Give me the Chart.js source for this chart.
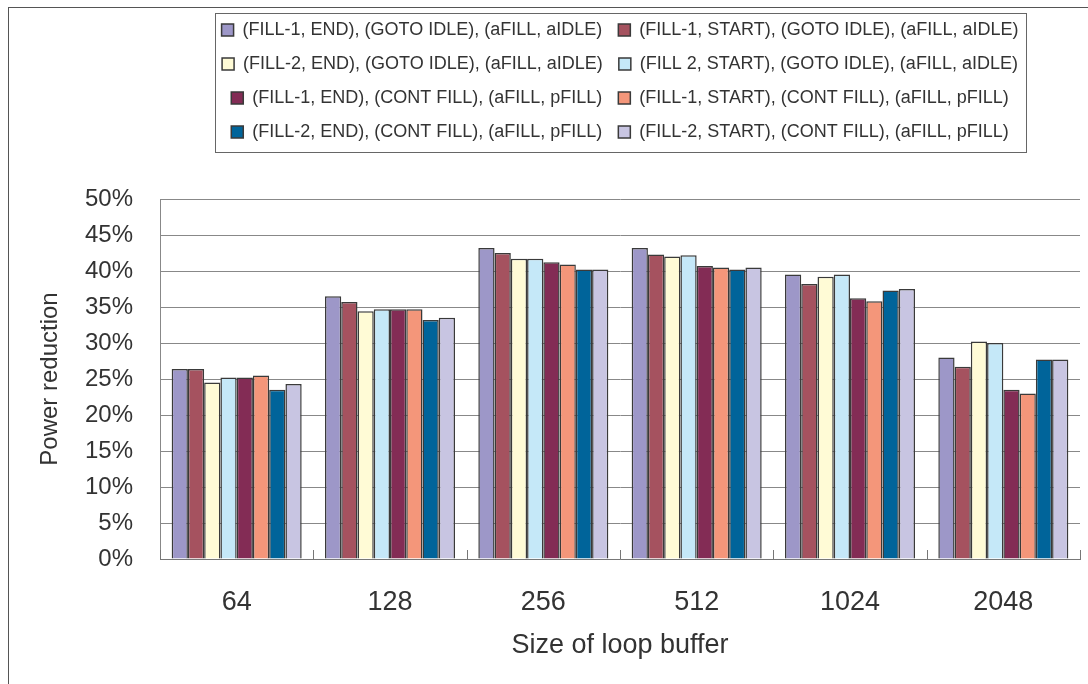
<!DOCTYPE html>
<html>
<head>
<meta charset="utf-8">
<script src="https://cdn.jsdelivr.net/npm/chart.js@4.4.0/dist/chart.umd.min.js"></script>
<style>
  html, body { margin: 0; padding: 0; background: #fff; overflow: hidden; }
  #wrap { width: 1088px; height: 684px; position: relative; }
</style>
</head>
<body>
<div id="wrap"><canvas id="powerChart"></canvas></div>
<script>
var sizes = ['64', '128', '256', '512', '1024', '2048'];

var seriesNames = [
    '(FILL-1, END), (GOTO IDLE), (aFILL, aIDLE)',
    '(FILL-1, START), (GOTO IDLE), (aFILL, aIDLE)',
    '(FILL-2, END), (GOTO IDLE), (aFILL, aIDLE)',
    '(FILL 2, START), (GOTO IDLE), (aFILL, aIDLE)',
    '(FILL-1, END), (CONT FILL), (aFILL, pFILL)',
    '(FILL-1, START), (CONT FILL), (aFILL, pFILL)',
    '(FILL-2, END), (CONT FILL), (aFILL, pFILL)',
    '(FILL-2, START), (CONT FILL), (aFILL, pFILL)'
];

// power reduction in %, one array per series, in order of sizes
var fill1EndIdle   = [26.4, 36.5, 43.2, 43.2, 39.5, 28.0];
var fill1StartIdle = [26.4, 35.7, 42.5, 42.3, 38.2, 26.7];
var fill2EndIdle   = [24.5, 34.4, 41.7, 42.0, 39.2, 30.2];
var fill2StartIdle = [25.2, 34.7, 41.7, 42.2, 39.5, 30.0];
var fill1EndCont   = [25.2, 34.7, 41.2, 40.7, 36.2, 23.5];
var fill1StartCont = [25.5, 34.7, 40.9, 40.5, 35.8, 23.0];
var fill2EndCont   = [23.5, 33.2, 40.2, 40.2, 37.3, 27.7];
var fill2StartCont = [24.3, 33.5, 40.2, 40.5, 37.5, 27.7];

var yMax = 50;
var yStep = 5;

(function () {
    var values = [fill1EndIdle, fill1StartIdle, fill2EndIdle, fill2StartIdle,
                  fill1EndCont, fill1StartCont, fill2EndCont, fill2StartCont];
    var colors = ['#9D97C8', '#A5525F', '#FFFBD6', '#C5E8F8',
                  '#832C55', '#F4967A', '#00649A', '#C8C5E2'];
    var font = "'Liberation Sans', Arial, sans-serif";
    var textColor = '#333333';

    var datasets = seriesNames.map(function (name, i) {
        return {
            label: name,
            data: values[i],
            backgroundColor: colors[i],
            borderColor: '#3a3a3a',
            borderWidth: 1.5,
            categoryPercentage: 0.848,
            barPercentage: 1.0
        };
    });

    // leave room between the legend and the plot
    var legendGap = {
        id: 'legendGap',
        beforeInit: function (chart) {
            var fit = chart.legend.fit;
            chart.legend.fit = function () {
                fit.call(this);
                this.height += 48;
            };
        }
    };

    // outer frame, legend frame and inside category ticks
    var decor = {
        id: 'decor',
        beforeDraw: function (chart) {
            var ctx = chart.ctx;
            ctx.save();
            ctx.strokeStyle = '#555';
            ctx.lineWidth = 1;
            ctx.strokeRect(8.5, 7.5, 1200, 800);
            ctx.restore();
        },
        afterDraw: function (chart) {
            var ctx = chart.ctx;
            var boxes = chart.legend.legendHitBoxes;
            var l = Infinity, t = Infinity, r = -Infinity, b = -Infinity;
            boxes.forEach(function (h) {
                l = Math.min(l, h.left); t = Math.min(t, h.top);
                r = Math.max(r, h.left + h.width); b = Math.max(b, h.top + h.height);
            });
            ctx.save();
            ctx.strokeStyle = '#666';
            ctx.lineWidth = 1;
            ctx.strokeRect(Math.round(l - 7) + 0.5, Math.round(t - 8) + 0.5,
                           Math.round(r - l + 14), Math.round(b - t + 19));

            var xs = chart.scales.x;
            var a = chart.chartArea;
            var step = xs.getPixelForValue(1) - xs.getPixelForValue(0);
            ctx.strokeStyle = '#777';
            ctx.beginPath();
            for (var i = 0; i <= sizes.length; i++) {
                var px = Math.round(xs.getPixelForValue(0) - step / 2 + i * step) + 0.5;
                ctx.moveTo(px, a.bottom);
                ctx.lineTo(px, a.bottom - 9);
            }
            ctx.stroke();
            ctx.restore();
        }
    };

    new Chart(document.getElementById('powerChart').getContext('2d'), {
        type: 'bar',
        data: { labels: sizes, datasets: datasets },
        plugins: [legendGap, decor],
        options: {
            responsive: true,
            maintainAspectRatio: false,
            animation: false,
            layout: { padding: { top: 5, left: 24, right: 8, bottom: 0 } },
            plugins: {
                tooltip: { enabled: false },
                legend: {
                    position: 'top',
                    fullSize: false,
                    labels: {
                        color: textColor,
                        font: { family: font, size: 18 },
                        boxWidth: 12,
                        boxHeight: 12,
                        padding: 16
                    }
                }
            },
            scales: {
                y: {
                    min: 0,
                    max: yMax,
                    afterFit: function (s) { s.width = 136; },
                    grid: { color: '#888', drawTicks: false },
                    border: { color: '#888' },
                    ticks: {
                        stepSize: yStep,
                        padding: 27,
                        color: textColor,
                        font: { family: font, size: 24 },
                        callback: function (v) { return v + '%'; }
                    },
                    title: {
                        display: true,
                        text: 'Power reduction',
                        color: textColor,
                        font: { family: font, size: 24 },
                        padding: { top: 12, bottom: 0 }
                    }
                },
                x: {
                    afterFit: function (s) { s.height = 125; },
                    grid: { display: false, drawTicks: false },
                    border: { color: '#777', width: 1 },
                    ticks: {
                        padding: 27,
                        color: textColor,
                        font: { family: font, size: 27 }
                    },
                    title: {
                        display: true,
                        text: 'Size of loop buffer',
                        color: textColor,
                        font: { family: font, size: 27 },
                        padding: { top: 0, bottom: 22 }
                    }
                }
            }
        }
    });
})();
</script>
</body>
</html>
